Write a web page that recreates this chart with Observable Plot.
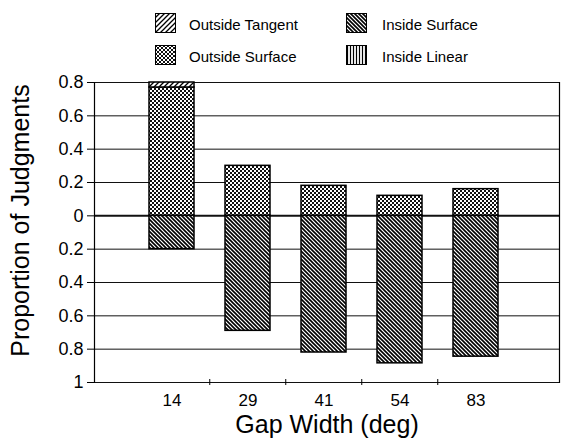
<!DOCTYPE html>
<html>
<head>
<meta charset="utf-8">
<script src="https://cdn.jsdelivr.net/npm/d3@7"></script>
<script src="https://cdn.jsdelivr.net/npm/@observablehq/plot@0.6"></script>
<style>
  html, body { margin: 0; padding: 0; background: white; }
  body { width: 562px; height: 442px; overflow: hidden; font-family: "Liberation Sans", Arial, sans-serif; }
  #legend { position: relative; width: 562px; height: 66px; }
  #legend .sw { position: absolute; }
  #legend .lt { position: absolute; font-size: 15px; line-height: 17px; color: #000; white-space: nowrap; }
</style>
</head>
<body>
<svg width="0" height="0" style="position:absolute">
  <defs>
    <pattern id="pOT" patternUnits="userSpaceOnUse" width="5" height="5">
      <rect width="5" height="5" fill="white"/>
      <path d="M0,5 L5,0 M-1,1 L1,-1 M4,6 L6,4" stroke="black" stroke-width="1.3"/>
    </pattern>
    <pattern id="pIS" patternUnits="userSpaceOnUse" width="4" height="4">
      <rect width="4" height="4" fill="white"/>
      <path d="M-1,-1 L5,5 M-1,3 L1,5 M3,-1 L5,1" stroke="black" stroke-width="1.6"/>
    </pattern>
    <pattern id="pOS" patternUnits="userSpaceOnUse" width="4" height="4">
      <rect width="4" height="4" fill="white"/>
      <rect x="0" y="0" width="2" height="2" fill="#111"/>
      <rect x="2" y="2" width="2" height="2" fill="#111"/>
    </pattern>
    <pattern id="pIL" patternUnits="userSpaceOnUse" width="3" height="3">
      <rect width="3" height="3" fill="white"/>
      <path d="M1.5,0 V3" stroke="black" stroke-width="1.2"/>
    </pattern>
  </defs>
</svg>
<div id="legend"></div>
<div id="chart"></div>
<script>
// ---- data ----
const gaps = ["14", "29", "41", "54", "83"];
const outsideSurface = [0.77, 0.30, 0.18, 0.12, 0.16];
const outsideTangent = [0.03, 0, 0, 0, 0];
const insideSurface = [0.20, 0.69, 0.82, 0.885, 0.845];
const insideLinear = [0, 0, 0, 0, 0];
const yTicks = [-1, -0.8, -0.6, -0.4, -0.2, 0, 0.2, 0.4, 0.6, 0.8];
const categories = ["Outside Tangent", "Inside Surface", "Outside Surface", "Inside Linear"];
const patterns = ["url(#pOT)", "url(#pIS)", "url(#pOS)", "url(#pIL)"];

// ---- legend ----
const legendPos = [
  {sx: 155, sy: 13, tx: 189, ty: 16},
  {sx: 346, sy: 13, tx: 382, ty: 16},
  {sx: 155, sy: 45, tx: 189, ty: 48},
  {sx: 346, sy: 45, tx: 382, ty: 48}
];
const legend = d3.select("#legend");
categories.forEach((c, i) => {
  const p = legendPos[i];
  const s = legend.append("svg").attr("class", "sw").attr("width", 21).attr("height", 20)
    .style("left", p.sx + "px").style("top", p.sy + "px");
  s.append("rect").attr("x", 0.5).attr("y", 0.5).attr("width", 20).attr("height", 19)
    .attr("fill", patterns[i]).attr("stroke", "black").attr("stroke-width", 1);
  legend.append("div").attr("class", "lt").style("left", p.tx + "px").style("top", p.ty + "px").text(c);
});

// ---- table ----
const table = [];
gaps.forEach((g, i) => {
  table.push({gap: g, type: "Outside Surface", v: outsideSurface[i]});
  table.push({gap: g, type: "Outside Tangent", v: outsideTangent[i]});
  table.push({gap: g, type: "Inside Surface", v: -insideSurface[i]});
  table.push({gap: g, type: "Inside Linear", v: -insideLinear[i]});
});
const bars = table.filter(d => d.v !== 0);

const fmt = d3.format("~g");

const plot = Plot.plot({
  width: 562,
  height: 376,
  marginLeft: 94,
  marginRight: 3,
  marginTop: 16,
  marginBottom: 60,
  style: {fontFamily: "'Liberation Sans', Arial, sans-serif", background: "white", color: "black"},
  x: {domain: gaps, range: [94, 552], paddingInner: 0.41, paddingOuter: 0.698, align: 0.5, axis: null},
  y: {domain: [-1, 0.8], axis: null},
  color: {domain: categories, range: patterns},
  marks: [
    Plot.ruleY(yTicks, {stroke: "#111", strokeWidth: d => d === 0 ? 2 : 1}),
    Plot.barY(bars, Plot.stackY({x: "gap", y: "v", fill: "type", stroke: "black", strokeWidth: 1.5})),
    Plot.axisY(yTicks, {tickFormat: d => fmt(Math.abs(d)), tickSize: 7, tickPadding: 4, fontSize: 18, label: null, stroke: "black"}),
    Plot.axisX(gaps, {tickSize: 0, tickPadding: 11, fontSize: 17, label: null}),
    Plot.ruleX(gaps.slice(1), {x: d => d, y1: -1, y2: -1, insetTop: -3, insetBottom: -3, dx: -38.25, stroke: "black"}),
    Plot.frame({anchor: "left", stroke: "black", strokeWidth: 1.2}),
    Plot.frame({anchor: "right", stroke: "black", strokeWidth: 1.2}),
    Plot.text(["Proportion of Judgments"], {text: d => d, frameAnchor: "left", textAnchor: "middle", rotate: -90, dx: -74, dy: -12, fontSize: 25}),
    Plot.text(["Gap Width (deg)"], {text: d => d, frameAnchor: "bottom", textAnchor: "middle", dy: 50, fontSize: 25})
  ]
});
document.getElementById("chart").appendChild(plot);
</script>
</body>
</html>
